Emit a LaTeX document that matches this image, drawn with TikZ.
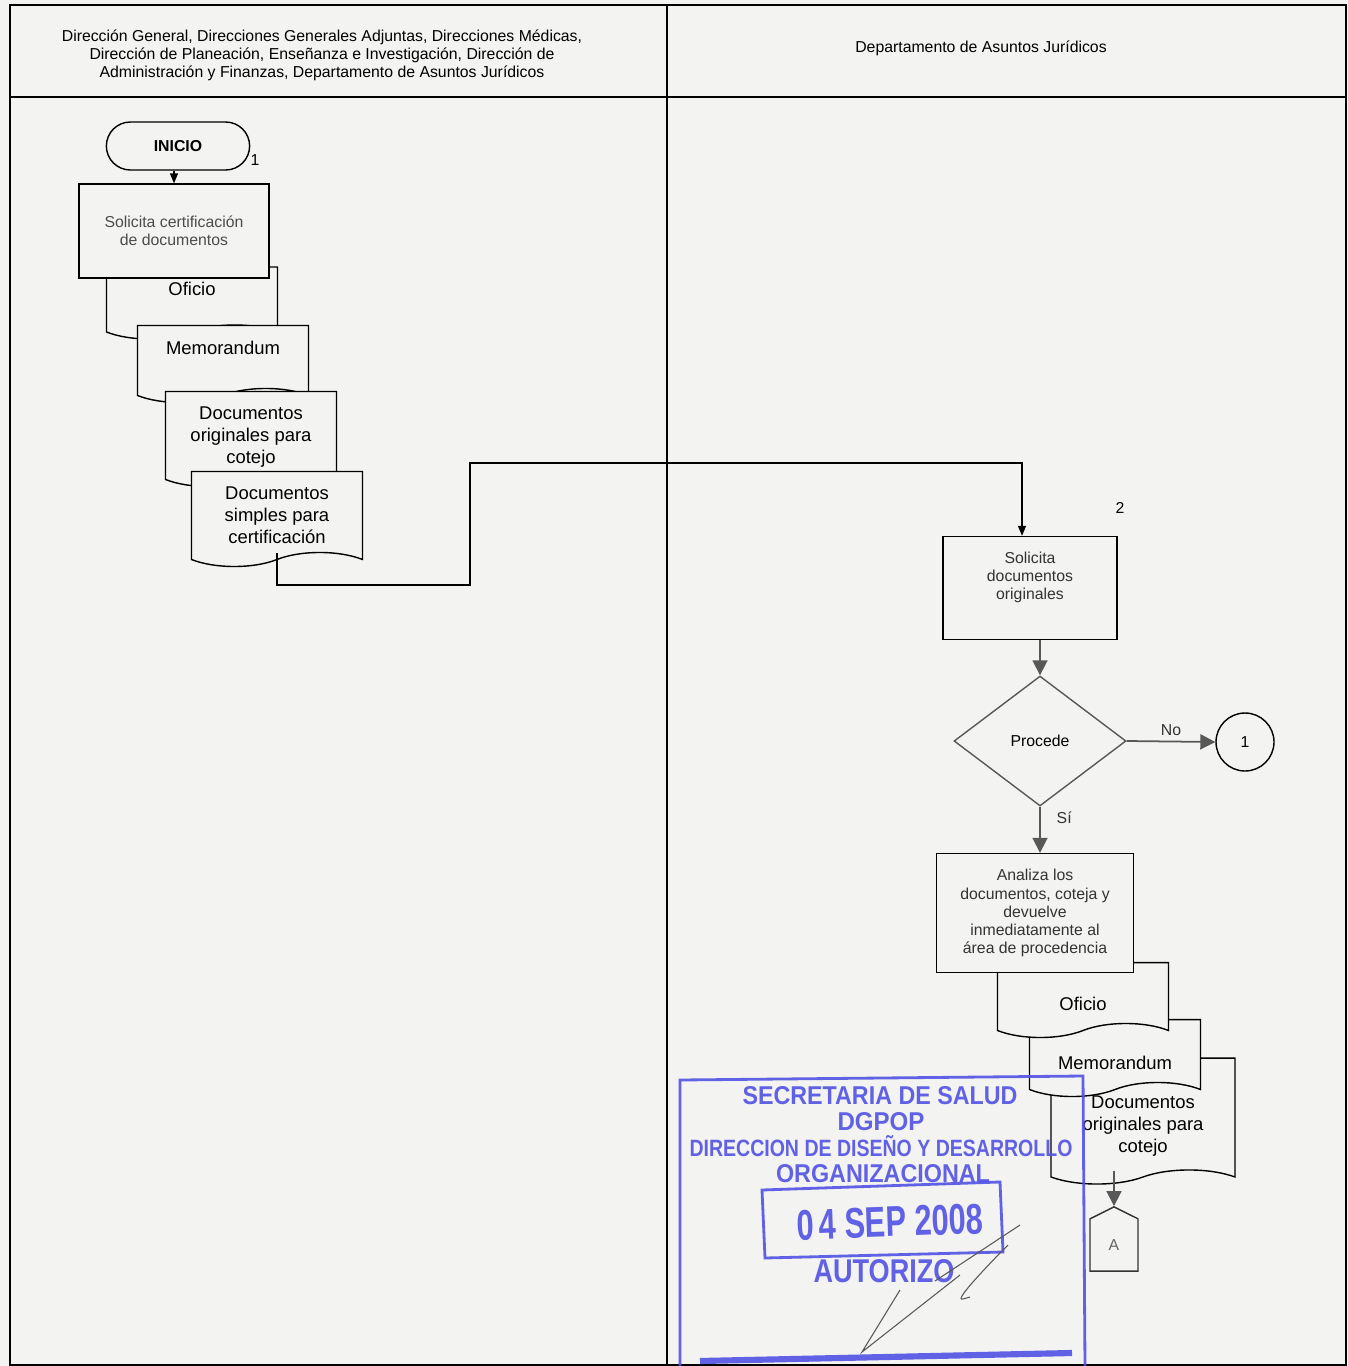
\documentclass[tikz,border=0pt]{standalone}
\usepackage{fontspec}
\setmainfont{Liberation Sans}
\usepackage{graphicx}
\definecolor{paper}{RGB}{243,243,241}
\definecolor{sello}{RGB}{82,82,228}
\definecolor{grisflujo}{RGB}{88,88,88}
\usetikzlibrary{shapes.geometric,shapes.misc,shapes.symbols,arrows.meta,positioning,calc}

\begin{document}
\begin{tikzpicture}[x=0.02cm,y=-0.02cm,font=\fontsize{9}{10.3}\selectfont]
		\tikzstyle{procbox}=[rectangle,draw,line width=0.8pt,fill=paper,align=center,
		inner sep=2pt,text=black!80]
		\tikzstyle{docbox}=[tape,tape bend top=none,tape bend bottom=in and out,
		tape bend height=8pt,draw,line width=0.8pt,fill=paper,align=center,inner sep=0pt,
		minimum width=3.42cm,font=\fontsize{10.5}{12.5}\selectfont]
		\tikzstyle{startbox}=[rounded rectangle,draw,line width=0.8pt,fill=paper,
		minimum width=3.1cm,minimum height=0.96cm,font=\fontsize{9}{10}\selectfont\bfseries]
		\tikzstyle{decbox}=[diamond,draw=grisflujo,line width=0.8pt,fill=paper,aspect=1.32,
		minimum width=3.44cm,minimum height=2.6cm,inner sep=0pt]
		\tikzstyle{connbox}=[circle,draw,line width=0.8pt,fill=paper,minimum size=1.16cm]
		\tikzstyle{offpage}=[signal,signal to=north,signal from=nowhere,signal pointer angle=127,
		draw=black!80,line width=0.8pt,fill=paper,minimum width=0.96cm,minimum height=1.1cm,
		text=black!60,inner sep=0pt]
		\tikzstyle{flecha}=[line width=0.8pt,-{Triangle[length=0.2cm,width=0.16cm]}]
		\tikzstyle{flechagris}=[grisflujo,line width=1pt,-{Triangle[length=0.3cm,width=0.3cm]}]
		\tikzstyle{lbl}=[inner sep=1pt]
		\tikzstyle{sellotxt}=[sello,inner sep=0pt,font=\bfseries]
		\useasboundingbox (0,0) rectangle (1348,1366);
		\fill[paper] (0,0) rectangle (1348,1366);
		% marco y carriles
		\draw[line width=0.9pt] (10,5) rectangle (1346,1365);
		\draw[line width=0.9pt] (10,97) -- (1346,97);
		\draw[line width=0.9pt] (667,5) -- (667,1366);
		\node[align=center] (hdizq) at (322,55) {Dirección General, Direcciones Generales Adjuntas, Direcciones Médicas,\\
			Dirección de Planeación, Enseñanza e Investigación, Dirección de\\
			Administración y Finanzas, Departamento de Asuntos Jurídicos};
		\node (hdder) at (981,48) {Departamento de Asuntos Jurídicos};
		% carril izquierdo
		\node[startbox] (ini) at (178,146) {INICIO};
		\node[lbl] (n1) at (255,160) {1};
		\node[docbox,minimum height=1.44cm] (of1) at (192,296) {Oficio\\[-4pt] \mbox{}};
		\node[procbox,minimum width=3.8cm,minimum height=1.88cm,text=black!70]
		(sol1) at (174,231) {Solicita certificación\\de documentos};
		\node[docbox,minimum height=1.54cm] (mem1) at (223,357) {Memorandum\\[-2pt] \mbox{}};
		\node[docbox,minimum height=1.9cm] (dorig1) at (251,432) {\mbox{}\\[0.6pt]Documentos\\originales para\\cotejo};
		\node[docbox,minimum height=1.9cm] (dsim1) at (277,512) {\mbox{}\\[-1.6pt]Documentos\\simples para\\certificación};
		\coordinate (q1) at (470,585);
		\coordinate (q2) at (1022,463);
		\draw[flecha] (ini.south -| sol1.north) -- (sol1.north);
		% carril derecho
		\node[lbl] (n2) at (1120,508) {2};
		\node[procbox,minimum width=3.48cm,minimum height=2.06cm] (sol2) at (1030,588)
		{Solicita\\documentos\\originales\\[3.4pt] \mbox{}};
		\node[decbox] (proc) at (1040,741) {Procede};
		\node[connbox] (c1) at (1245,742) {1};
		\node[docbox,minimum width=3.68cm,minimum height=2.52cm] (dorig2) at (1143,1114)
		{\mbox{}\\[8.4pt]Documentos\\originales para\\cotejo};
		\node[docbox,minimum height=1.54cm] (mem2) at (1115,1051) {\mbox{}\\[8.5pt]Memorandum};
		\node[docbox,minimum height=1.5cm] (of2) at (1083,993) {\mbox{}\\[8pt]Oficio};
		\node[procbox,minimum width=3.94cm,minimum height=2.38cm] (ana) at (1035,913)
		{Analiza los\\documentos, coteja y\\devuelve\\inmediatamente al\\área de procedencia};
		\node[offpage] (offA) at (1114,1245) {A};
		\draw[flecha] (dsim1.south) |- (q1) |- (q2) -- (q2 |- sol2.north);
		\draw[flechagris] (sol2.south -| proc.north) -- (proc.north);
		\draw[flechagris] (proc.east) -- node[above,black!80,inner sep=3pt] {No} (c1.west);
		\draw[flechagris] (proc.south) -- node[right=0.2cm,pos=0.25,black!80] {Sí} (ana.north -| proc.south);
		\draw[flechagris] (offA.north |- dorig2.south) -- (offA.north);
		% sello
		\begin{scope}[opacity=0.9]
			\draw[sello,line width=1.6pt] (680,1366) -- (680,1080) -- (1083,1076) -- (1085,1366);
			\draw[sello,line width=1.6pt] (762,1190) -- (1000,1182) -- (1003,1252) -- (765,1258) -- cycle;
			\draw[sello,line width=3.5pt] (700,1361) -- (1072,1353);
			\node[sellotxt] (s1) at (880,1096) {\resizebox{5.5cm}{0.36cm}{SECRETARIA DE SALUD}};
			\node[sellotxt] (s2) at (881,1122) {\resizebox{1.74cm}{0.36cm}{DGPOP}};
			\node[sellotxt] (s3) at (881,1146) {\resizebox{7.66cm}{0.42cm}{DIRECCION DE DISEÑO Y DESARROLLO}};
			\node[sellotxt] (s4) at (883,1174) {\resizebox{4.28cm}{0.36cm}{ORGANIZACIONAL}};
			\node[sellotxt,rotate=2] (s5) at (890,1222) {\resizebox{3.74cm}{0.6cm}{0\,4 SEP 2008}};
			\node[sellotxt] (s6) at (884,1271) {\resizebox{2.82cm}{0.46cm}{AUTORIZO}};
		\end{scope}
		% firma
		\draw[grisflujo,line width=0.6pt] (900,1290) -- (862,1352) -- (960,1275);
		\draw[grisflujo,line width=0.6pt] (935,1281) -- (1020,1225);
		\draw[grisflujo,line width=0.6pt] (1008,1245) .. controls (985,1268) and (965,1290) .. (962,1296)
		.. controls (960,1300) .. (970,1297);
	\end{tikzpicture}
\end{document}
